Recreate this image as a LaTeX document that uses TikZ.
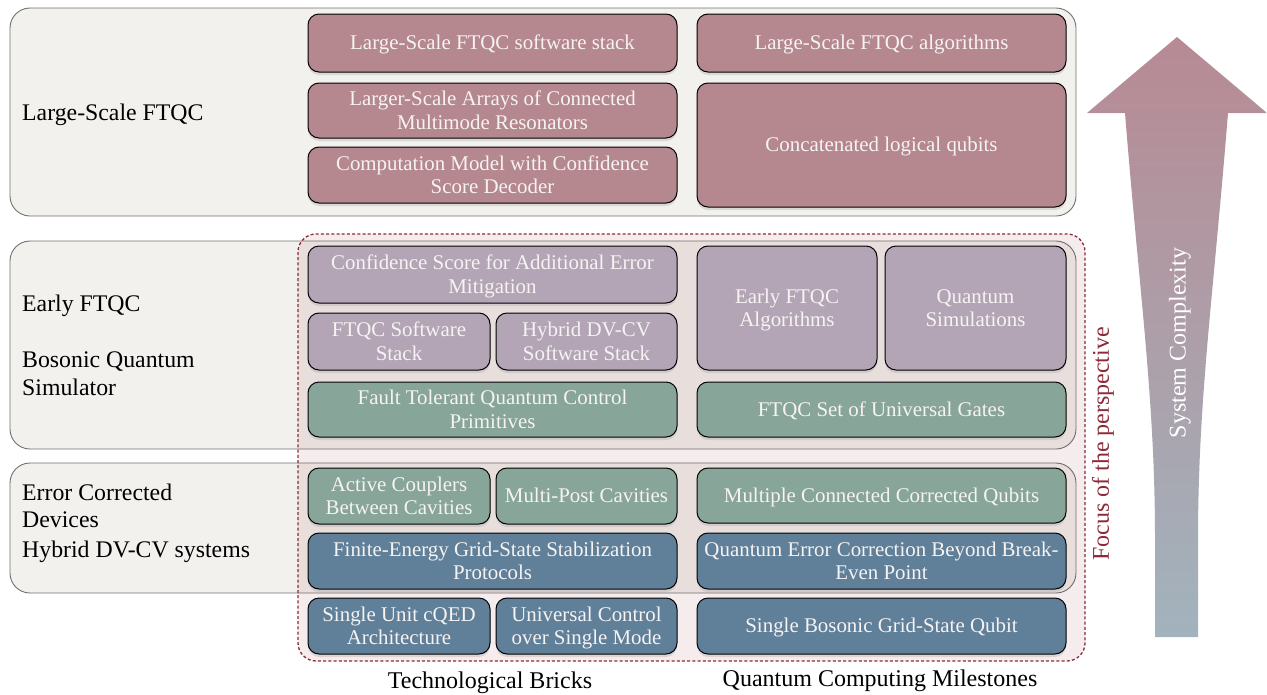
\documentclass[tikz,border=0pt]{standalone}
\usepackage{fontspec}
\setmainfont{Liberation Serif}
\usetikzlibrary{shadows}
\definecolor{rose}{HTML}{B5878F}
\definecolor{lav}{HTML}{B3A5B6}
\definecolor{sage}{HTML}{88A599}
\definecolor{steel}{HTML}{607F99}
\definecolor{tierbg}{HTML}{F2F1EE}
\definecolor{tierline}{HTML}{707070}
\definecolor{focus}{HTML}{8C2A3A}
\definecolor{boxtext}{HTML}{F6F3F3}
\definecolor{arrtop}{HTML}{B78A94}
\definecolor{arrbot}{HTML}{A2B3BD}
\tikzset{
  tier/.style={draw=tierline, fill=tierbg, rounded corners=20pt, line width=0.9pt},
  brick/.style={draw=black, line width=1pt, rounded corners=11pt, text=boxtext,
    inner sep=0pt, font=\fontsize{20.9}{23.3}\selectfont,
    drop shadow={shadow xshift=0pt, shadow yshift=-3pt, opacity=0.22}},
  sidelabel/.style={anchor=base west, inner sep=0pt, font=\fontsize{23.8}{27.7}\selectfont},
  footlabel/.style={inner sep=0pt, font=\fontsize{24}{28}\selectfont},
  focusbox/.style={draw=focus, dash pattern=on 3pt off 2.2pt, line width=1.3pt, fill=focus,
    fill opacity=0.09, rounded corners=18pt}
}
\newcommand\brick[7]{\node[brick,fill=#6,minimum width={#4-#2},minimum height={#5-#3}] (#1) at ({(#2+#4)/2},{(#3+#5)/2}) {\raisebox{-2.2pt}[\height][\depth]{\begin{tabular}{@{}c@{}}#7\end{tabular}}};}
\newcommand\sidetext[1]{\begin{tabular}[t]{@{}l@{}}#1\end{tabular}}
\begin{document}
\begin{tikzpicture}[x=1pt,y=-1pt]
\useasboundingbox (0,0) rectangle (1267,694);
% tiers
\draw[tier] (10,8) rectangle (1076,216);
\draw[tier] (10,241) rectangle (1076,449);
\draw[tier] (10,463) rectangle (1076,593);
% focus region
\draw[focusbox] (298,234) rectangle (1085,661);
% side labels
\node[sidelabel] (l1) at (22,120.7) {\sidetext{Large-Scale FTQC}};
\node[sidelabel] (l2) at (22,311.7) {\sidetext{Early FTQC}};
\node[sidelabel] (l3) at (22,367.3) {\sidetext{Bosonic Quantum\\Simulator}};
\node[sidelabel] (l4) at (22,500) {\sidetext{Error Corrected\\Devices}};
\node[sidelabel] (l5) at (22,557.3) {\sidetext{Hybrid DV-CV systems}};
% tier 1
\brick{a1}{308}{14}{677}{72}{rose}{Large-Scale FTQC software stack}
\brick{a2}{697}{14}{1066}{72}{rose}{Large-Scale FTQC algorithms}
\brick{a3}{308}{83}{677}{138}{rose}{Larger-Scale Arrays of Connected\\Multimode Resonators}
\brick{a4}{308}{147}{677}{203}{rose}{Computation Model with Confidence\\Score Decoder}
\brick{a5}{697}{83}{1066}{207}{rose}{Concatenated logical qubits}
% tier 2
\brick{b1}{308}{246}{677}{303}{lav}{Confidence Score for Additional Error\\Mitigation}
\brick{b2}{308}{313}{490}{370}{lav}{FTQC Software\\Stack}
\brick{b3}{496}{313}{677}{370}{lav}{Hybrid DV-CV\\Software Stack}
\brick{b4}{308}{382}{677}{437}{sage}{Fault Tolerant Quantum Control\\Primitives}
\brick{b5}{697}{246}{877}{370}{lav}{Early FTQC\\Algorithms}
\brick{b6}{885}{246}{1066}{370}{lav}{Quantum\\Simulations}
\brick{b7}{697}{382}{1066}{437}{sage}{FTQC Set of Universal Gates}
% tier 3
\brick{c1}{308}{468}{490}{524}{sage}{Active Couplers\\Between Cavities}
\brick{c2}{496}{468}{677}{524}{sage}{Multi-Post Cavities}
\brick{c3}{308}{533}{677}{589}{steel}{Finite-Energy Grid-State Stabilization\\Protocols}
\brick{c4}{697}{468}{1066}{523}{sage}{Multiple Connected Corrected Qubits}
\brick{c5}{697}{533}{1066}{589}{steel}{Quantum Error Correction Beyond Break-\\Even Point}
% bottom row
\brick{d1}{308}{598}{490}{654}{steel}{Single Unit cQED\\Architecture}
\brick{d2}{496}{598}{677}{654}{steel}{Universal Control\\over Single Mode}
\brick{d3}{697}{598}{1066}{654}{steel}{Single Bosonic Grid-State Qubit}
% footer labels
\node[footlabel] (f1) at (490,683) {Technological Bricks};
\node[footlabel] (f2) at (880,681) {Quantum Computing Milestones};
% focus label
\node[rotate=90, text=focus, inner sep=0pt, font=\fontsize{24}{28}\selectfont] (fl) at (1103,444) {Focus of the perspective};
% complexity arrow
\shade[top color=arrtop, bottom color=arrbot, middle color=arrtop!50!arrbot]
  (1177,37) -- (1267,113) -- (1228,113)
  .. controls (1213,300) and (1198,400) .. (1198,540) -- (1198,637) -- (1155,637) -- (1155,540)
  .. controls (1155,400) and (1140,300) .. (1125,113) -- (1087,113) -- cycle;
\node[rotate=90, text=white, inner sep=0pt, font=\fontsize{24}{28}\selectfont] (sc) at (1180,343) {System Complexity};
\end{tikzpicture}
\end{document}
